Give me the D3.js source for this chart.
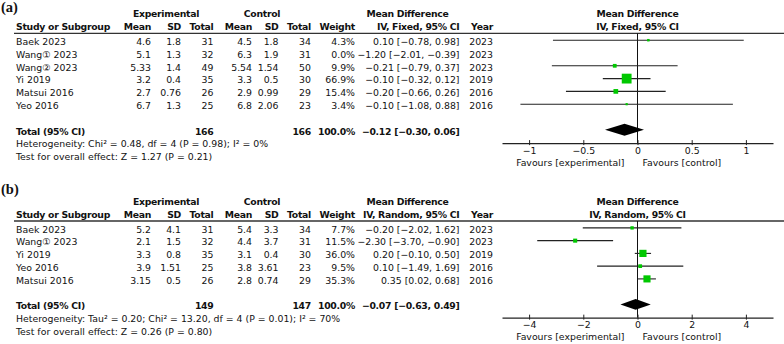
<!DOCTYPE html>
<html>
<head>
<meta charset="utf-8">
<script src="https://cdn.jsdelivr.net/npm/d3@7"></script>
<style>
  body { margin: 0; background: #fff; }
  svg { display: block; font-family: "DejaVu Sans", sans-serif; font-size: 9.35px; fill: #111; }
  .b { font-weight: bold; font-size: 9.3px; letter-spacing: -0.28px; }
</style>
</head>
<body>
<div id="chart"></div>
<script>
// Panel (a) - fixed effect
const studiesA = ["Baek 2023", "Wang\u2460 2023", "Wang\u2461 2023", "Yi 2019", "Matsui 2016", "Yeo 2016"];
const expMeanA = ["4.6", "5.1", "5.33", "3.2", "2.7", "6.7"];
const expSdA = ["1.8", "1.3", "1.4", "0.4", "0.76", "1.3"];
const expNA = [31, 32, 49, 35, 26, 25];
const ctlMeanA = ["4.5", "6.3", "5.54", "3.3", "2.9", "6.8"];
const ctlSdA = ["1.8", "1.9", "1.54", "0.5", "0.99", "2.06"];
const ctlNA = [34, 31, 50, 30, 29, 23];
const weightA = [4.3, 0.0, 9.9, 66.9, 15.4, 3.4];
const mdA = [0.10, -1.20, -0.21, -0.10, -0.20, -0.10];
const lowA = [-0.78, -2.01, -0.79, -0.32, -0.66, -1.08];
const highA = [0.98, -0.39, 0.37, 0.12, 0.26, 0.88];
const yearA = [2023, 2023, 2023, 2019, 2016, 2016];
const totalA = { n1: 166, n2: 166, md: -0.12, lo: -0.30, hi: 0.06 };
const hetA = "Heterogeneity: Chi\u00b2 = 0.48, df = 4 (P = 0.98); I\u00b2 = 0%";
const testA = "Test for overall effect: Z = 1.27 (P = 0.21)";
const ticksA = [-1, -0.5, 0, 0.5, 1];

// Panel (b) - random effects
const studiesB = ["Baek 2023", "Wang\u2460 2023", "Yi 2019", "Yeo 2016", "Matsui 2016"];
const expMeanB = ["5.2", "2.1", "3.3", "3.9", "3.15"];
const expSdB = ["4.1", "1.5", "0.8", "1.51", "0.5"];
const expNB = [31, 32, 35, 25, 26];
const ctlMeanB = ["5.4", "4.4", "3.1", "3.8", "2.8"];
const ctlSdB = ["3.3", "3.7", "0.4", "3.61", "0.74"];
const ctlNB = [34, 31, 30, 23, 29];
const weightB = [7.7, 11.5, 36.0, 9.5, 35.3];
const mdB = [-0.20, -2.30, 0.20, 0.10, 0.35];
const lowB = [-2.02, -3.70, -0.10, -1.49, 0.02];
const highB = [1.62, -0.90, 0.50, 1.69, 0.68];
const yearB = [2023, 2023, 2019, 2016, 2016];
const totalB = { n1: 149, n2: 147, md: -0.07, lo: -0.63, hi: 0.49 };
const hetB = "Heterogeneity: Tau\u00b2 = 0.20; Chi\u00b2 = 13.20, df = 4 (P = 0.01); I\u00b2 = 70%";
const testB = "Test for overall effect: Z = 0.26 (P = 0.80)";
const ticksB = [-4, -2, 0, 2, 4];

const width = 784, height = 344;
const svg = d3.select("#chart").append("svg")
  .attr("width", width).attr("height", height);

// minus sign like RevMan
const fmt = v => d3.format(".2f")(v).replace("-", "\u2212");
const fmtT = v => String(v).replace("-", "\u2212");
const ci = (m, l, h) => `${fmt(m)} [${fmt(l)}, ${fmt(h)}]`;

// column right edges
const col = { mean1: 151, sd1: 181, n1: 213.5, mean2: 252, sd2: 278.5, n2: 311, w: 355, ci: 459.5, year: 493 };
const plotRange = [502, 773];
const sizeScale = d3.scaleSqrt().domain([0, 100]).range([0, 12]);

function panel(cfg) {
  const g = svg.append("g").attr("transform", `translate(0,${cfg.oy})`);
  const rowY = d3.scaleLinear().domain([0, 1]).range([41.7, 41.7 + cfg.step]);
  const x = d3.scaleLinear().domain(cfg.domain).range(plotRange);
  const n = cfg.studies.length;

  const txt = (xx, yy, s, anchor, cls) => g.append("text")
    .attr("x", xx).attr("y", yy).attr("dy", "0.35em")
    .attr("text-anchor", anchor || "start")
    .attr("class", cls || null).text(s);

  // panel letter
  svg.append("text").attr("x", 1).attr("y", cfg.labelY).attr("dy", "0.35em")
    .style("font-family", "'Liberation Serif', serif").style("font-size", "14.5px")
    .style("font-weight", "bold").text(cfg.label);

  // headers
  txt(166, 14, "Experimental", "middle", "b");
  txt(262, 14, "Control", "middle", "b");
  txt(407.5, 14, "Mean Difference", "middle", "b");
  txt(x(0), 14, "Mean Difference", "middle", "b");
  txt(16, 26.7, "Study or Subgroup", "start", "b");
  txt(col.mean1, 26.7, "Mean", "end", "b");
  txt(col.sd1, 26.7, "SD", "end", "b");
  txt(col.n1, 26.7, "Total", "end", "b");
  txt(col.mean2, 26.7, "Mean", "end", "b");
  txt(col.sd2, 26.7, "SD", "end", "b");
  txt(col.n2, 26.7, "Total", "end", "b");
  txt(col.w, 26.7, "Weight", "end", "b");
  txt(col.ci, 26.7, cfg.method, "end", "b");
  txt(col.year, 26.7, "Year", "end", "b");
  txt(x(0), 26.7, cfg.method, "middle", "b");

  g.append("line").attr("x1", 14).attr("x2", width).attr("y1", 33.3).attr("y2", 33.3)
    .attr("stroke", "#333").attr("stroke-width", 1.3);

  // study rows
  cfg.studies.forEach((s, i) => {
    const y = rowY(i);
    txt(16, y, s);
    txt(col.mean1, y, cfg.expMean[i], "end");
    txt(col.sd1, y, cfg.expSd[i], "end");
    txt(col.n1, y, cfg.expN[i], "end");
    txt(col.mean2, y, cfg.ctlMean[i], "end");
    txt(col.sd2, y, cfg.ctlSd[i], "end");
    txt(col.n2, y, cfg.ctlN[i], "end");
    txt(col.w, y, d3.format(".1f")(cfg.weight[i]) + "%", "end");
    txt(col.ci, y, ci(cfg.md[i], cfg.low[i], cfg.high[i]), "end");
    txt(col.year, y, cfg.year[i], "end");
  });

  // totals
  const ty = rowY(n + 1);
  txt(16, ty, "Total (95% CI)", "start", "b");
  txt(col.n1, ty, cfg.total.n1, "end", "b");
  txt(col.n2, ty, cfg.total.n2, "end", "b");
  txt(col.w, ty, "100.0%", "end", "b");
  txt(col.ci, ty, ci(cfg.total.md, cfg.total.lo, cfg.total.hi), "end", "b");
  txt(16, rowY(n + 2), cfg.het);
  txt(16, rowY(n + 3), cfg.test);

  // forest plot
  const axisY = rowY(n + 2) - 1;
  g.append("line").attr("x1", x(0)).attr("x2", x(0)).attr("y1", 33.3).attr("y2", axisY)
    .attr("stroke", "#111").attr("stroke-width", 1);

  // studies with zero weight are not drawn
  const rows = cfg.studies.map((s, i) => ({
    i, md: cfg.md[i], lo: cfg.low[i], hi: cfg.high[i], w: cfg.weight[i]
  })).filter(d => d.w > 0);

  g.selectAll(".ci").data(rows).join("line")
    .attr("x1", d => x(Math.max(d.lo, cfg.domain[0])))
    .attr("x2", d => x(Math.min(d.hi, cfg.domain[1])))
    .attr("y1", d => rowY(d.i) - 1.5).attr("y2", d => rowY(d.i) - 1.5)
    .attr("stroke", "#222").attr("stroke-width", 1.1);

  g.selectAll(".sq").data(rows).join("rect")
    .attr("x", d => x(d.md) - Math.max(sizeScale(d.w), 2) / 2)
    .attr("y", d => rowY(d.i) - 1.5 - Math.max(sizeScale(d.w), 2) / 2)
    .attr("width", d => Math.max(sizeScale(d.w), 2))
    .attr("height", d => Math.max(sizeScale(d.w), 2))
    .attr("fill", "#00c800");

  const dy = ty - 1.5;
  g.append("path")
    .attr("d", `M${x(cfg.total.lo)},${dy} L${x(cfg.total.md)},${dy - cfg.dh} L${x(cfg.total.hi)},${dy} L${x(cfg.total.md)},${dy + cfg.dh}Z`)
    .attr("fill", "#000");

  const axis = g.append("g").attr("transform", `translate(0,${axisY})`)
    .call(d3.axisBottom(x).tickValues(cfg.ticks).tickFormat(fmtT).tickSize(4).tickSizeOuter(0));
  axis.select(".domain").attr("stroke", "#222").attr("stroke-width", 1.1);
  axis.selectAll(".tick line").attr("stroke", "#222").attr("y1", -3).attr("y2", 2);
  axis.selectAll(".tick text").attr("y", 4).attr("dy", "0.71em")
    .style("font-family", "'DejaVu Sans', sans-serif").style("font-size", "9.35px").attr("fill", "#111");

  txt(x(0) - 13, axisY + 19.5, "Favours [experimental]", "end");
  txt(x(0) + 5, axisY + 19.5, "Favours [control]", "start");
}

panel({
  oy: 0, label: "(a)", labelY: 7, step: 12.8, domain: [-1.25, 1.25], ticks: ticksA,
  method: "IV, Fixed, 95% CI", dh: 6,
  studies: studiesA, expMean: expMeanA, expSd: expSdA, expN: expNA,
  ctlMean: ctlMeanA, ctlSd: ctlSdA, ctlN: ctlNA, weight: weightA,
  md: mdA, low: lowA, high: highA, year: yearA, total: totalA, het: hetA, test: testA
});

panel({
  oy: 187.7, label: "(b)", labelY: 189, step: 12.75, domain: [-5, 5], ticks: ticksB,
  method: "IV, Random, 95% CI", dh: 5.3,
  studies: studiesB, expMean: expMeanB, expSd: expSdB, expN: expNB,
  ctlMean: ctlMeanB, ctlSd: ctlSdB, ctlN: ctlNB, weight: weightB,
  md: mdB, low: lowB, high: highB, year: yearB, total: totalB, het: hetB, test: testB
});
</script>
</body>
</html>
